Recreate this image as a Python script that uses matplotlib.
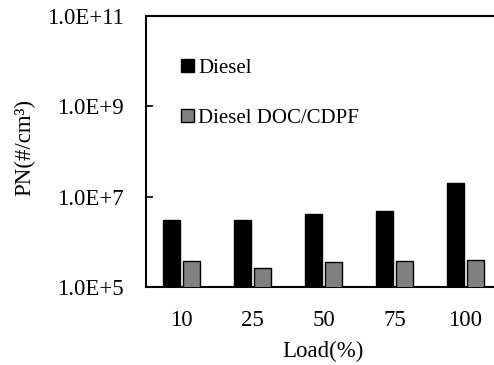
import numpy as np
import matplotlib
matplotlib.use("Agg")
import matplotlib.pyplot as plt
from matplotlib.ticker import FixedLocator, FuncFormatter, NullLocator

plt.rcParams["font.family"] = ["Liberation Serif", "DejaVu Serif"]

# particle number at each engine load
loads = ["10", "25", "50", "75", "100"]
diesel = [3.1e6, 3.1e6, 4.2e6, 4.9e6, 2.0e7]
diesel_doc_cdpf = [3.7e5, 2.6e5, 3.5e5, 3.7e5, 3.9e5]
y_ticks = [1e5, 1e7, 1e9, 1e11]

fig = plt.figure(figsize=(4.94, 3.65), dpi=100)
ax = fig.add_axes([0.2955, 0.2137, 0.7186, 0.7425])

x = np.arange(len(loads))
w = 0.25
ax.bar(x - 0.14, diesel, w, color="black", edgecolor="black", linewidth=1.0,
       label="Diesel", zorder=3)
ax.bar(x + 0.14, diesel_doc_cdpf, w, color="#808080", edgecolor="black",
       linewidth=1.0, label="Diesel DOC/CDPF", zorder=3)

ax.set_yscale("log")
ax.set_ylim(1e5, 1e11)
ax.set_xlim(-0.5, len(loads) - 0.5)
ax.yaxis.set_major_locator(FixedLocator(y_ticks))
ax.yaxis.set_minor_locator(NullLocator())
ax.yaxis.set_major_formatter(FuncFormatter(lambda v, p: "1.0E+%d" % round(np.log10(v))))
ax.set_xticks(x)
ax.set_xticklabels(loads)

ax.tick_params(axis="y", direction="in", length=5, width=1.2, pad=16, labelsize=16.5)
ax.tick_params(axis="x", length=0, pad=16.5, labelsize=16.5)

for s in ax.spines.values():
    s.set_linewidth(1.5)
ax.spines["right"].set_visible(False)

ax.set_xlabel("Load(%)", fontsize=16.5, labelpad=7)
ax.set_ylabel("PN(#/cm³)", fontsize=16.5)
ax.yaxis.set_label_coords(-0.313, 0.513)

ax.legend(loc="upper left", bbox_to_anchor=(0.07, 0.88), frameon=False,
          handlelength=0.6, handleheight=0.6, handletextpad=0.2,
          labelspacing=1.5, fontsize=15, borderpad=0)

fig.savefig("out.png", dpi=100)
